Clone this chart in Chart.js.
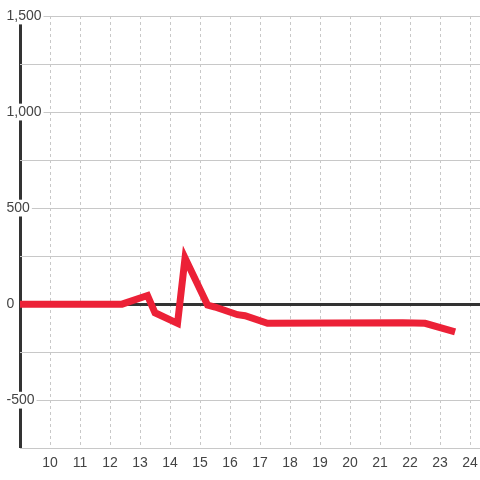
<!DOCTYPE html>
<html>
<head>
<meta charset="utf-8">
<script src="https://cdn.jsdelivr.net/npm/chart.js@4"></script>
<style>
  html, body { margin: 0; padding: 0; background: #fff; }
  #wrap { width: 480px; height: 480px; }
</style>
</head>
<body>
<div id="wrap"><canvas id="chart"></canvas></div>
<script>
// values
const hours  = [9, 12.4, 13.25, 13.5, 14.25, 14.5, 15.25, 15.5, 16.25, 16.5, 17.25, 21.75, 22.5, 23.5];
const values = [0, 0, 45, -45, -100, 240, -5, -15, -55, -60, -100, -97, -100, -145];
const yMin = -750, yMax = 1500, yStep = 250;
const xMin = 9, xMax = 24.33;

const lineColor = '#ec2137';
const textColor = '#444';
const axisColor = '#333';
const gridColor = '#c8c8c8';

// the dark left axis is the x grid line at xMin, the dark zero line is the y grid line at 0
const isXAxisLine = ctx => ctx.tick && ctx.tick.value === xMin;
const isZeroLine = ctx => ctx.tick && ctx.tick.value === 0;

new Chart(document.getElementById('chart').getContext('2d'), {
  type: 'line',
  data: {
    datasets: [{
      data: hours.map((h, i) => ({ x: h, y: values[i] })),
      borderColor: lineColor,
      borderWidth: 7,
      pointRadius: 0,
      tension: 0,
      fill: false
    }]
  },
  options: {
    responsive: true,
    maintainAspectRatio: false,
    animation: false,
    layout: { padding: { left: 20, top: 16, right: 0, bottom: 8 } },
    plugins: {
      legend: { display: false },
      tooltip: { enabled: false }
    },
    scales: {
      x: {
        type: 'linear',
        min: xMin,
        max: xMax,
        border: { display: false, dash: ctx => isXAxisLine(ctx) ? [] : [3, 3] },
        grid: {
          color: ctx => isXAxisLine(ctx) ? axisColor : gridColor,
          lineWidth: ctx => isXAxisLine(ctx) ? 3 : 1,
          drawTicks: true,
          tickLength: 7,
          tickColor: 'rgba(0,0,0,0)'
        },
        ticks: {
          stepSize: 1,
          includeBounds: false,
          padding: 0,
          color: textColor,
          font: { family: 'Liberation Sans, Arial, sans-serif', size: 14 },
          callback: v => v === xMin ? '' : v
        }
      },
      y: {
        min: yMin,
        max: yMax,
        border: { display: false },
        grid: {
          drawTicks: false,
          color: ctx => isZeroLine(ctx) ? axisColor : gridColor,
          lineWidth: ctx => isZeroLine(ctx) ? 3 : 1
        },
        ticks: {
          stepSize: yStep,
          mirror: true,
          padding: -4.5,
          color: textColor,
          font: { family: 'Liberation Sans, Arial, sans-serif', size: 14 },
          showLabelBackdrop: true,
          backdropColor: '#fff',
          backdropPadding: { left: 0, right: 2, top: 0, bottom: 0 },
          callback: v => v % 500 === 0 ? v.toLocaleString('en-US') : ''
        }
      }
    }
  }
});
</script>
</body>
</html>
